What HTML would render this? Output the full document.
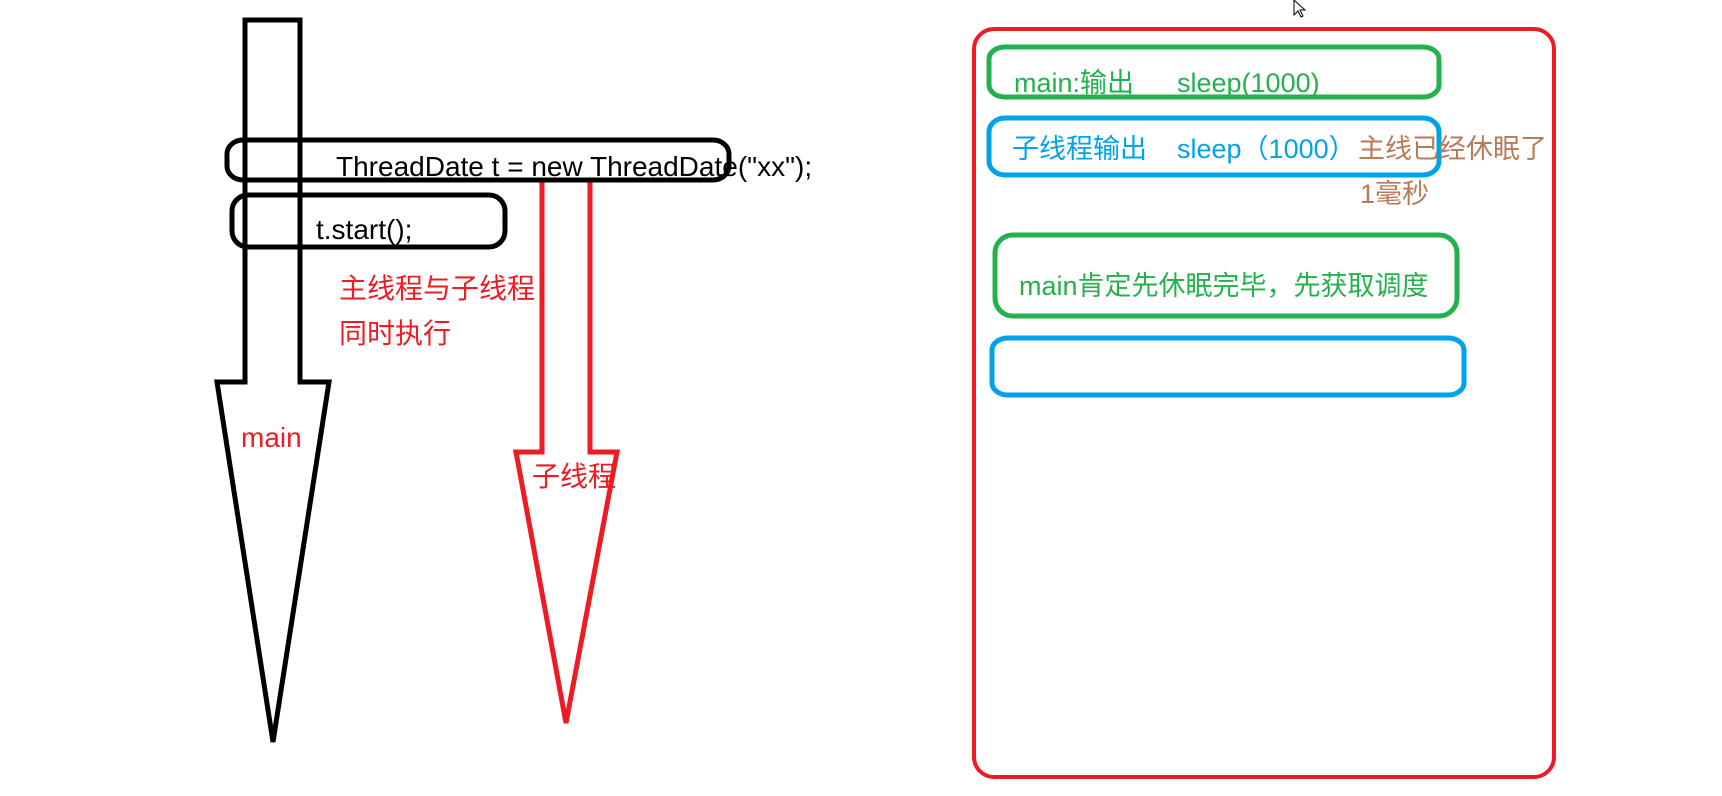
<!DOCTYPE html>
<html><head><meta charset="utf-8"><style>
html,body{margin:0;padding:0;background:#fff;width:1722px;height:796px;overflow:hidden}
svg{display:block}
text{font-family:"Liberation Sans","Noto Sans CJK SC",sans-serif;font-size:27px}
.l{font-size:28px}
</style></head><body>
<svg width="1722" height="796" viewBox="0 0 1722 796" xmlns="http://www.w3.org/2000/svg">
<polygon points="245,20 300,20 300,382 329,382 273,742 217,382 245,382" fill="none" stroke="#000" stroke-width="5" stroke-linejoin="miter"/>
<polygon points="542,180 590,180 590,452 617,452 566,723 516,452 542,452" fill="none" stroke="#ed1c24" stroke-width="5"/>
<rect x="227" y="140" width="502" height="40" rx="16" ry="14" fill="none" stroke="#000" stroke-width="5"/>
<rect x="232" y="195" width="273" height="52" rx="16" ry="16" fill="none" stroke="#000" stroke-width="5"/>
<text class="l" x="336" y="176" fill="#000">ThreadDate t = new ThreadDate("xx");</text>
<text class="l" x="316" y="239" fill="#000">t.start();</text>
<text class="l" x="339" y="298" fill="#ed1c24">主线程与子线程</text>
<text class="l" x="339" y="343" fill="#ed1c24">同时执行</text>
<text class="l" x="241" y="447" fill="#ed1c24">main</text>
<text class="l" x="532" y="486" fill="#ed1c24">子线程</text>
<rect x="974" y="29" width="580" height="748" rx="20" ry="20" fill="none" stroke="#ed1c24" stroke-width="4"/>
<rect x="989" y="47" width="450" height="50" rx="16" ry="12" fill="none" stroke="#22b14c" stroke-width="5"/>
<text x="1014" y="92" fill="#22b14c">main:输出</text>
<text x="1177" y="92" fill="#22b14c">sleep(1000)</text>
<rect x="989" y="118" width="450" height="57" rx="16" ry="14" fill="none" stroke="#00a2e8" stroke-width="5"/>
<text x="1012" y="158" fill="#00a2e8">子线程输出</text>
<text x="1177" y="158" fill="#00a2e8">sleep（1000）</text>
<text x="1358" y="158" fill="#b97a57">主线已经休眠了</text>
<text x="1360" y="203" fill="#b97a57">1毫秒</text>
<rect x="995" y="235" width="462" height="81" rx="18" ry="18" fill="none" stroke="#22b14c" stroke-width="5"/>
<text x="1019" y="295" fill="#22b14c">main肯定先休眠完毕，先获取调度</text>
<rect x="992" y="338" width="472" height="57" rx="16" ry="12" fill="none" stroke="#00a2e8" stroke-width="5"/>
<polygon points="1294,0 1294,15 1298,11 1301,17 1303,16 1300,10 1305,10" fill="#fff" stroke="#000" stroke-width="1"/>
</svg>
</body></html>
